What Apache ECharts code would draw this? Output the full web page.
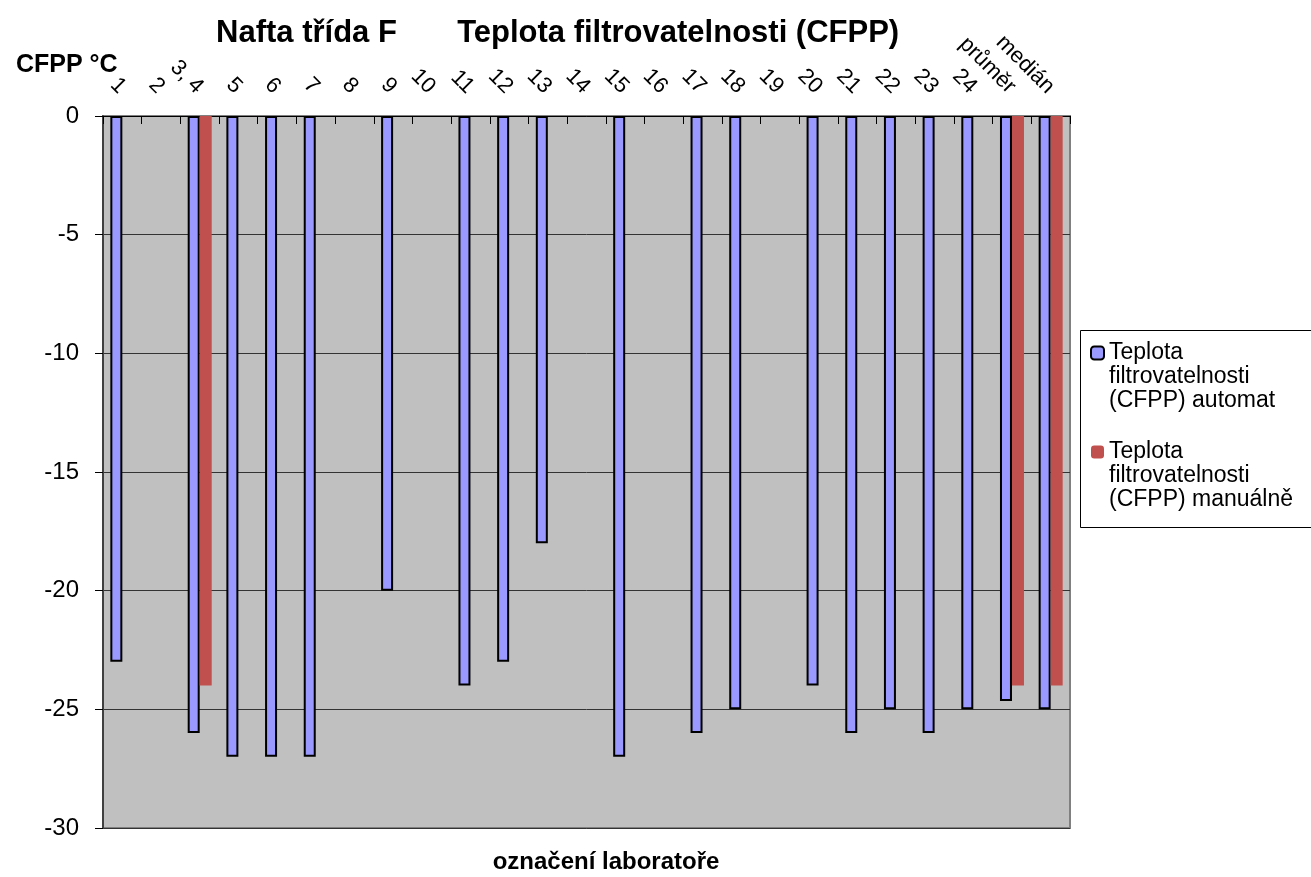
<!DOCTYPE html>
<html>
<head>
<meta charset="utf-8">
<script src="https://cdn.jsdelivr.net/npm/echarts@6/dist/echarts.min.js"></script>
<style>html,body{margin:0;padding:0;background:#fff;}#c{width:1311px;height:877px;}</style>
</head>
<body>
<div id="c"></div>
<script>
var categories = ['1','2','3, 4','5','6','7','8','9','10','11','12','13','14','15','16','17','18','19','20','21','22','23','24','průměr','medián'];
var automat = [-23,null,-26,-27,-27,-27,null,-20,null,-24,-23,-18,null,-27,null,-26,-25,null,-24,-26,-25,-26,-25,-24.65,-25];
var manual = [null,null,-24,null,null,null,null,null,null,null,null,null,null,null,null,null,null,null,null,null,null,null,null,-24,-24];
var yTicks = {min:-30, max:0, interval:5};
var seriesNames = ['Teplota\nfiltrovatelnosti\n(CFPP) automat','Teplota\nfiltrovatelnosti\n(CFPP) manuálně'];

var FONT = 'Liberation Sans, Arial, sans-serif';
var chart = echarts.init(document.getElementById('c'));
chart.setOption({
  animation:false,
  backgroundColor:'#ffffff',
  textStyle:{fontFamily:FONT},
  title:[
    {text:'Nafta třída F       Teplota filtrovatelnosti (CFPP)', left:211, top:13,
     textStyle:{fontFamily:FONT, fontSize:31, fontWeight:'bold', color:'#000'}},
    {text:'CFPP °C', left:11, top:48,
     textStyle:{fontFamily:FONT, fontSize:25, fontWeight:'bold', color:'#000'}},
    {text:'označení laboratoře', left:601, top:845, textAlign:'center',
     textStyle:{fontFamily:FONT, fontSize:24, fontWeight:'bold', color:'#000'}}
  ],
  grid:{left:103, right:241, top:116, bottom:49, show:true, backgroundColor:'#c0c0c0', borderColor:'#808080', borderWidth:2},
  legend:{
    orient:'vertical', left:1090, top:293, padding:0, itemGap:-21,
    itemWidth:13, itemHeight:13,
    formatter:function(n){return '\n\n' + n;},
    textStyle:{fontFamily:FONT, fontSize:23, color:'#000', lineHeight:24},
    data:[seriesNames[0], seriesNames[1]]
  },
  graphic:[{type:'rect', shape:{x:1080.5, y:330.5, width:240, height:197}, style:{fill:'none', stroke:'#000', lineWidth:1}, silent:true}],
  xAxis:{
    type:'category', data:categories, position:'top',
    axisLine:{lineStyle:{color:'#000', width:1}},
    axisTick:{show:true, inside:true, length:8, interval:0, lineStyle:{color:'#000'}},
    axisLabel:{interval:0, rotate:-45, fontSize:22, color:'#000', margin:26, fontFamily:FONT},
    splitLine:{show:false}
  },
  yAxis:{
    type:'value', min:yTicks.min, max:yTicks.max, interval:yTicks.interval,
    axisLine:{show:true, lineStyle:{color:'#404040', width:2}},
    axisTick:{show:true, length:8, lineStyle:{color:'#000'}},
    axisLabel:{fontSize:24, color:'#000', margin:24, fontFamily:FONT},
    splitLine:{show:true, lineStyle:{color:'#333', width:1}}
  },
  series:[
    {name:seriesNames[0], type:'bar', data:automat, barWidth:12, barGap:'0%',
     itemStyle:{color:'#9999ff', borderColor:'#000', borderWidth:2}},
    {name:seriesNames[1], type:'bar', data:manual, barWidth:12, barGap:'0%',
     itemStyle:{color:'#c0504d', borderWidth:0}}
  ]
});
</script>
</body>
</html>
